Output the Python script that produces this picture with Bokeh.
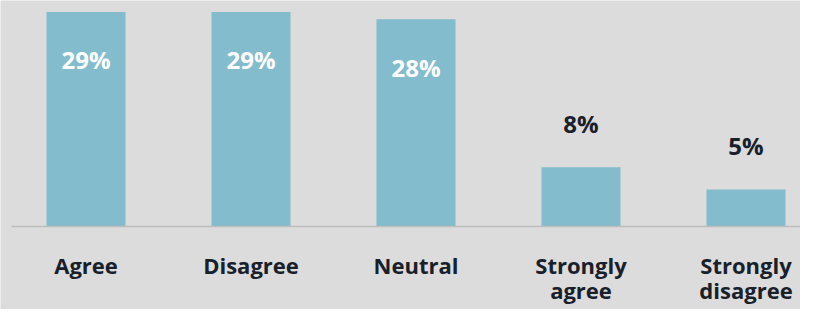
from bokeh.plotting import figure
from bokeh.models import Range1d, ColumnDataSource
from bokeh.core.properties import value
from bokeh.embed import file_html
from bokeh.resources import INLINE

categories = ["Agree", "Disagree", "Neutral", "Strongly agree", "Strongly disagree"]
percent = [29, 29, 28, 8, 5]
labels = ["29%", "29%", "28%", "8%", "5%"]

BAR = "#82bccd"
DARK = "#18202a"
BG = "#dcdcdc"

W, H = 800, 309
px_per = 7.4
base_px = 226
y_top = base_px / px_per
y_bot = -(H - base_px) / px_per
x_start = -85.5 / 165
x_end = x_start + W / 165

p = figure(width=W, height=H, output_backend="svg", toolbar_location=None,
           x_range=Range1d(x_start, x_end), y_range=Range1d(y_bot, y_top),
           min_border=0, background_fill_color=BG, border_fill_color=BG,
           outline_line_color=None)
p.axis.visible = False
p.grid.visible = False

xs = list(range(len(categories)))
p.vbar(x=xs, top=percent, bottom=0, width=79 / 165, fill_color=BAR, line_color=None)

p.segment(x0=[x_start + 11 / 165], y0=[0], x1=[x_end], y1=[0], line_color="#bdbdbd", line_width=1.5)

inside = [v >= 20 for v in percent]
lab_src = ColumnDataSource(dict(
    x=xs,
    y=[v - 48 / px_per if ins else v + 44 / px_per for v, ins in zip(percent, inside)],
    t=labels,
    c=["white" if ins else DARK for ins in inside],
))
p.text(x="x", y="y", text="t", text_color="c", source=lab_src,
       text_font=value("Open Sans"), text_font_style="bold", text_font_size="24px",
       text_align="center", text_baseline="middle")

line1 = [c.split(" ")[0] for c in categories]
line2 = [c.split(" ")[1] if " " in c else "" for c in categories]
p.text(x=xs, y=[-(264 - base_px) / px_per] * len(xs), text=line1,
       text_color=DARK, text_font=value("Open Sans"), text_font_style="bold",
       text_font_size="22px", text_align="center", text_baseline="middle")
p.text(x=xs, y=[-(289 - base_px) / px_per] * len(xs), text=line2,
       text_color=DARK, text_font=value("Open Sans"), text_font_style="bold",
       text_font_size="22px", text_align="center", text_baseline="middle")

open("out.html", "w").write(file_html(p, INLINE))
